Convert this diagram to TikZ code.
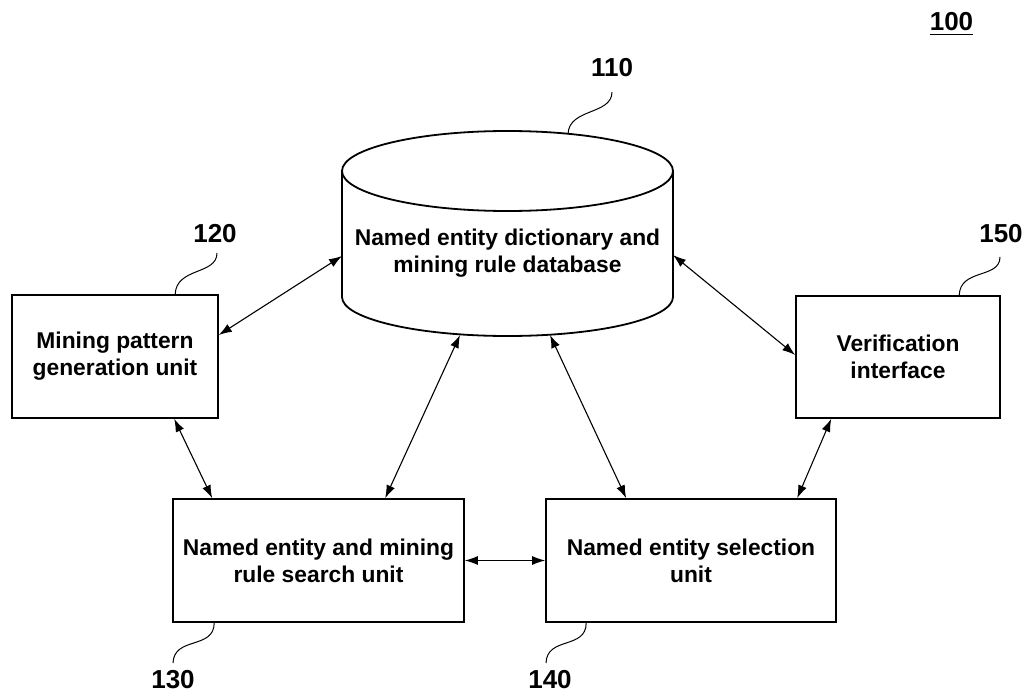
\documentclass[tikz,border=0pt]{standalone}
\usepackage{fontspec}
\setmainfont{Liberation Sans}
\usetikzlibrary{arrows.meta}
\begin{document}
\begin{tikzpicture}[x=1pt,y=-1pt,
  unitbox/.style={draw, line width=1.6pt, inner sep=0pt, align=center,
    font=\bfseries\fontsize{22.8}{27}\selectfont},
  reflabel/.style={font=\bfseries\fontsize{26}{26}\selectfont, inner sep=0pt, anchor=base},
  link/.style={line width=1.1pt, {Latex[length=13pt,width=9pt]}-{Latex[length=13pt,width=9pt]}},
  leader/.style={line width=1pt},
]
% page area
\fill[white] (0,0) rectangle (1027,695);
\useasboundingbox (0,0) rectangle (1027,695);

% database cylinder
\draw[line width=1.8pt] (507.5,171) ellipse [x radius=165.5pt, y radius=40pt];
\draw[line width=1.8pt] (342,171) -- (342,297)
  .. controls (342,318.5) and (416.1,336) .. (507.5,336)
  .. controls (598.9,336) and (673,318.5) .. (673,297) -- (673,171);
\node[align=center, inner sep=0pt, font=\bfseries\fontsize{22.8}{27}\selectfont] (db) at (507.5,253.5)
  {Named entity dictionary and\\mining rule database};
\coordinate (dbW) at (342,256);
\coordinate (dbE) at (673,255);
\coordinate (dbSW) at (460,335);
\coordinate (dbSE) at (550,335);
\coordinate (dbN) at (568,134);

% functional units
\node[unitbox, minimum width=206pt, minimum height=123pt] (b120) at (115,356.5)
  {Mining pattern\\generation unit};
\node[unitbox, minimum width=204pt, minimum height=122pt] (b150) at (898,357)
  {Verification\\interface};
\node[unitbox, minimum width=291pt, minimum height=123pt] (b130) at (318.5,560.5)
  {Named entity and mining\\rule search unit};
\node[unitbox, minimum width=290pt, minimum height=123pt] (b140) at (691,560.5)
  {Named entity selection\\unit};

% reference numerals
\node[reflabel] (l100) at (951.5,31) {100};
\draw[line width=1.2pt] ([yshift=-3.5pt]l100.base west) -- ([yshift=-3.5pt]l100.base east);
\node[reflabel] (l110) at (612,77) {110};
\node[reflabel] (l120) at (215,242) {120};
\node[reflabel] (l150) at (1001,242) {150};
\node[reflabel] (l130) at (173,688) {130};
\node[reflabel] (l140) at (550,688) {140};

% leader lines
\draw[leader] ([yshift=-15pt]l110.base) .. controls +(0,23) and +(1,-26) .. (dbN);
\draw[leader] ([xshift=2pt,yshift=-11pt]l120.base) .. controls +(0,22) and +(1,-27) .. ([xshift=164pt]b120.north west);
\draw[leader] ([xshift=-1pt,yshift=-15pt]l150.base) .. controls +(0,22) and +(1,-27) .. ([xshift=164pt]b150.north west);
\draw[leader] ([xshift=42pt]b130.south west) .. controls +(0,27) and +(1,-27) .. ([yshift=25pt]l130.base);
\draw[leader] ([xshift=41pt]b140.south west) .. controls +(0,27) and +(1,-27) .. ([xshift=-4pt,yshift=25pt]l140.base);

% data flows
\draw[link] ([yshift=21.5pt]b120.east) -- (dbW);
\draw[link] (dbE) -- ([yshift=2pt]b150.west);
\draw[link] ([xshift=163pt]b120.south west) -- ([xshift=40pt]b130.north west);
\draw[link] (dbSW) -- ([xshift=213pt]b130.north west);
\draw[link] (dbSE) -- ([xshift=81pt]b140.north west);
\draw[link] (b130.east) -- (b140.west);
\draw[link] ([xshift=36pt]b150.south west) -- ([xshift=252pt]b140.north west);
\end{tikzpicture}
\end{document}
